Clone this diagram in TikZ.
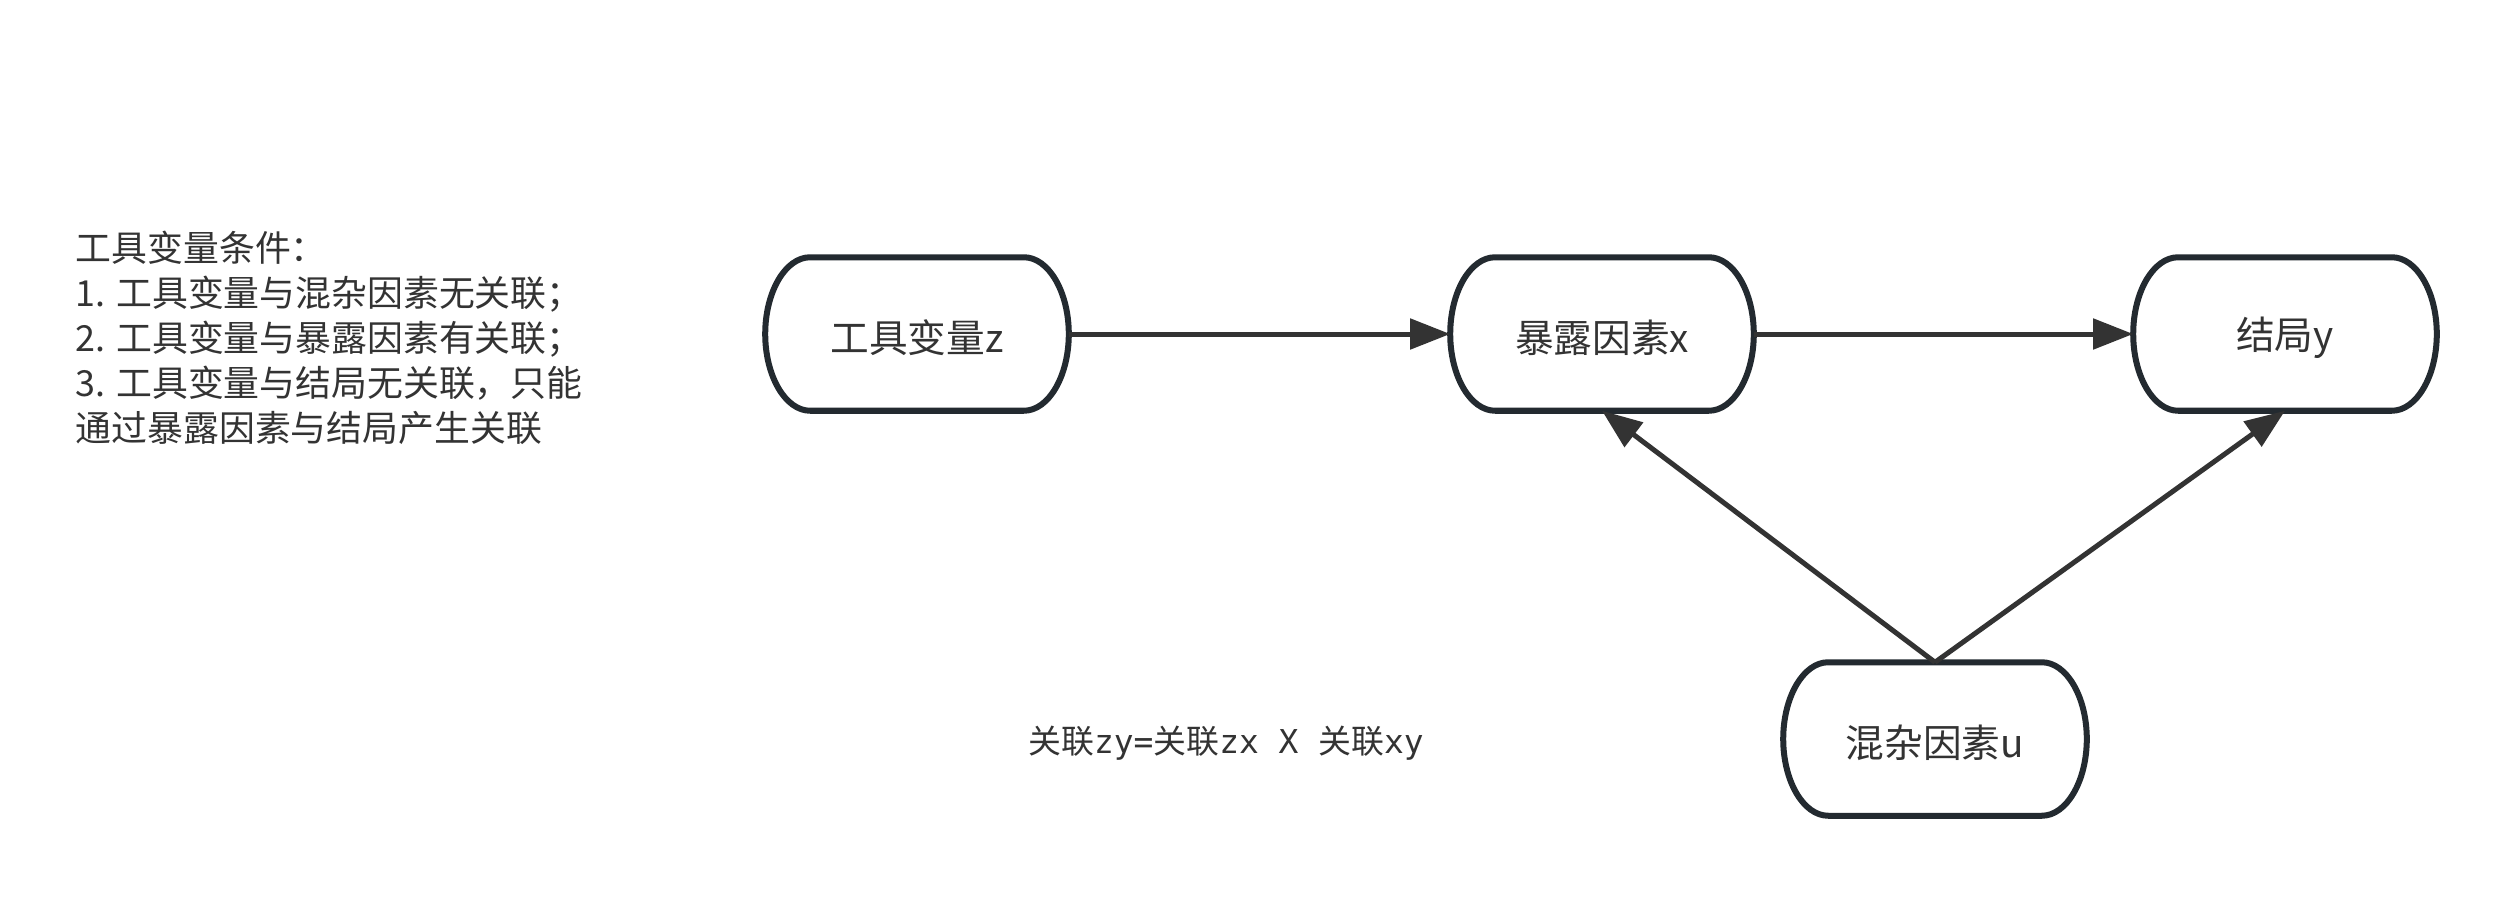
\documentclass[tikz,border=0pt]{standalone}
\usepackage{fontspec}
\setmainfont{Noto Sans CJK SC}
\newfontfamily\monof{DejaVu Sans Mono}
\usetikzlibrary{arrows.meta,calc}
\definecolor{borderc}{HTML}{232A30}
\definecolor{arrowc}{HTML}{333333}
\definecolor{textc}{HTML}{333333}
\tikzset{
  boxnode/.style={minimum width=3.02cm, minimum height=1.52cm, inner sep=0pt,
    text=textc, font=\fontsize{11pt}{13pt}\selectfont},
  boxline/.style={draw=borderc, line width=0.06cm, fill=white},
  link/.style={draw=arrowc, line width=0.05cm, -{Triangle[length=0.4cm, width=0.3cm]}},
  notetext/.style={text=textc, align=left, inner sep=0pt,
    font=\fontsize{10.2pt}{12.8pt}\selectfont},
  formula/.style={text=textc, inner sep=0pt, font=\fontsize{9.35pt}{12pt}\selectfont}
}
\newcommand\capsuleshape[1]{%
  \path[boxline]
    ($(#1.north west)+(45,0)$) -- ($(#1.north east)+(-45,0)$)
    .. controls ($(#1.north east)+(-20,0)$) and ($(#1.north east)+(0,35)$) .. (#1.east)
    .. controls ($(#1.south east)+(0,-35)$) and ($(#1.south east)+(-20,0)$) .. ($(#1.south east)+(-45,0)$)
    -- ($(#1.south west)+(45,0)$)
    .. controls ($(#1.south west)+(20,0)$) and ($(#1.south west)+(0,-35)$) .. (#1.west)
    .. controls ($(#1.north west)+(0,35)$) and ($(#1.north west)+(20,0)$) .. cycle;}
\begin{document}
\begin{tikzpicture}[x=0.01cm, y=-0.01cm]
\useasboundingbox[fill=white] (0,0) rectangle (2511,921);
% node placeholders (for geometry)
\path (917,334) node[boxnode] (z) {};
\path (1602,334) node[boxnode] (x) {};
\path (2285,334) node[boxnode] (y) {};
\path (1935,739) node[boxnode] (u) {};
\capsuleshape{z}
\capsuleshape{x}
\capsuleshape{y}
\capsuleshape{u}
\node[boxnode, yshift=-0.04cm] (zt) at (z) {工具变量z};
\node[boxnode, yshift=-0.04cm] (xt) at (x) {暴露因素x};
\node[boxnode, yshift=-0.04cm] (yt) at (y) {结局y};
\node[boxnode, yshift=-0.04cm] (ut) at (u) {混杂因素u};
% connectors
\draw[link] (z.east) -- (x.west);
\draw[link] (x.east) -- (y.west);
\draw[link] (u.north) -- (x.south);
\draw[link] (u.north) -- (y.south);
% texts
\node[notetext, anchor=west] (note) at (75,338) {工具变量条件：\\1. 工具变量与混杂因素无关联；\\2. 工具变量与暴露因素有关联；\\3. 工具变量与结局无关联，只能\\通过暴露因素与结局产生关联};
\node[formula] (eq) at (1226,743) {关联{\monof zy=}关联{\monof zx X }关联{\monof xy}};
\end{tikzpicture}
\end{document}
